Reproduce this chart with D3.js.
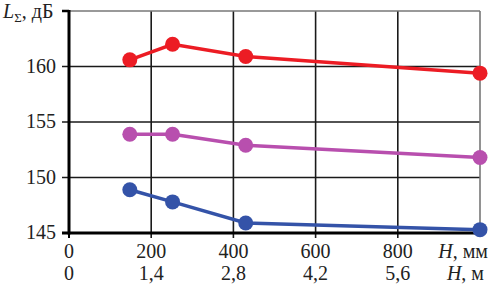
<!DOCTYPE html>
<html><head><meta charset="utf-8">
<script src="https://cdn.jsdelivr.net/npm/d3@7"></script>
</head><body style="margin:0">
<svg id="c" width="493" height="286"></svg>
<script>
const xTicksMM = [0, 200, 400, 600, 800];
const xTicksM = ["0", "1,4", "2,8", "4,2", "5,6"];
const yTicks = [145, 150, 155, 160];
const xValues = [148, 252, 430, 1000];
const redValues = [160.6, 162.0, 160.9, 159.4];
const magentaValues = [153.9, 153.9, 152.9, 151.8];
const blueValues = [148.9, 147.8, 145.9, 145.3];
const seriesColors = ["#ec1c24", "#b84fae", "#3453a8"];

const svg = d3.select("#c");
const L = 69, R = 480, T = 11, B = 233;
const x = d3.scaleLinear().domain([0, 1000]).range([L, R]);
const y = d3.scaleLinear().domain([145, 165]).range([B, T]);
const FF = '"Liberation Serif"';
const FS = 20;

// grid
svg.append("g").selectAll("line").data(xTicksMM.slice(1)).join("line")
  .attr("x1", d => x(d)).attr("x2", d => x(d)).attr("y1", y(165)).attr("y2", B + 5)
  .attr("stroke", "#1a1a1a").attr("stroke-width", 1.6);
svg.append("g").selectAll("line").data(yTicks.slice(1)).join("line")
  .attr("x1", L - 7).attr("x2", R).attr("y1", d => y(d)).attr("y2", d => y(d))
  .attr("stroke", "#1a1a1a").attr("stroke-width", 1.6);
// top and right border
svg.append("line").attr("x1", L - 7).attr("x2", R).attr("y1", y(165)).attr("y2", y(165)).attr("stroke", "#777").attr("stroke-width", 1.6);
svg.append("line").attr("x1", R).attr("x2", R).attr("y1", y(165)).attr("y2", B).attr("stroke", "#777").attr("stroke-width", 1.6);
svg.append("line").attr("x1", L - 7).attr("x2", L).attr("y1", y(165)).attr("y2", y(165)).attr("stroke", "#000").attr("stroke-width", 2.5);
// axes
svg.append("line").attr("x1", L).attr("x2", L).attr("y1", y(165) - 1).attr("y2", B + 1.5).attr("stroke", "#000").attr("stroke-width", 3);
svg.append("line").attr("x1", L - 7).attr("x2", R).attr("y1", B).attr("y2", B).attr("stroke", "#000").attr("stroke-width", 3);
svg.append("line").attr("x1", L).attr("x2", L).attr("y1", B).attr("y2", B + 5).attr("stroke", "#000").attr("stroke-width", 2);

const txt = "#222";
function T_(sel) { return sel.style("font-family", FF).attr("font-size", FS).attr("fill", txt); }
// y labels
T_(svg.append("g").selectAll("text").data(yTicks).join("text")
  .attr("x", 56).attr("y", d => y(d) + 6).attr("text-anchor", "end")).text(d => d);
// x labels
T_(svg.append("g").selectAll("text").data(xTicksMM).join("text")
  .attr("x", d => x(d)).attr("y", 258).attr("text-anchor", "middle")).text(d => d);
T_(svg.append("g").selectAll("text").data(xTicksM).join("text")
  .attr("x", (d, i) => x(xTicksMM[i])).attr("y", 280).attr("text-anchor", "middle")).text(d => d);
// axis titles
const t1 = T_(svg.append("text").attr("x", 488).attr("y", 258).attr("text-anchor", "end"));
t1.append("tspan").style("font-family", FF).style("font-style", "italic").text("H");
t1.append("tspan").style("font-family", FF).text(", мм");
const t2 = T_(svg.append("text").attr("x", 484).attr("y", 280).attr("text-anchor", "end"));
t2.append("tspan").style("font-family", FF).style("font-style", "italic").text("H");
t2.append("tspan").style("font-family", FF).text(", м");
const t3 = T_(svg.append("text").attr("x", 3).attr("y", 18));
t3.append("tspan").style("font-family", FF).style("font-style", "italic").text("L");
t3.append("tspan").style("font-family", FF).attr("font-size", 13).attr("dy", 4).text("Σ");
t3.append("tspan").style("font-family", FF).attr("dy", -4).text(", дБ");

// series
const series = [redValues, magentaValues, blueValues];
const line = d3.line().x((d, i) => x(xValues[i])).y(d => y(d));
series.forEach((vals, k) => {
  const g = svg.append("g");
  g.append("path").datum(vals).attr("d", line).attr("fill", "none")
    .attr("stroke", seriesColors[k]).attr("stroke-width", 3.5);
  g.selectAll("circle").data(vals).join("circle")
    .attr("cx", (d, i) => x(xValues[i])).attr("cy", d => y(d)).attr("r", 7.5)
    .attr("fill", seriesColors[k]);
});
</script>
</body></html>
